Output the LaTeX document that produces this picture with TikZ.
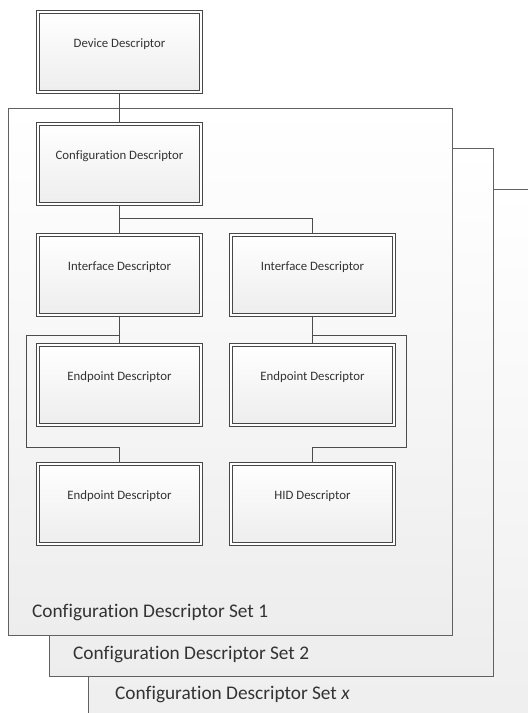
\documentclass[tikz,border=0pt]{standalone}
\usepackage{fontspec}
\setmainfont[Ligatures=NoCommon]{Carlito}
\usetikzlibrary{shadows}
\begin{document}
\begin{tikzpicture}[x=1pt,y=-1pt,
  descbox/.style={draw=black!72, line width=0.75pt, double=white, double distance=2.2pt,
    minimum width=163.5pt, minimum height=80.5pt, inner sep=0pt,
    top color=white, bottom color=black!7,
    text height=8pt, text depth=18pt, font=\fontsize{12.8}{15}\selectfont, text=black!80,
    drop shadow={shadow xshift=1.6pt, shadow yshift=-1.6pt, fill=black, opacity=0.12}},
  frame/.style={draw=black!62, line width=0.8pt, top color=white, bottom color=black!7,
    drop shadow={shadow xshift=1.2pt, shadow yshift=-1.2pt, fill=black, opacity=0.15}},
  setlabel/.style={anchor=base west, inner sep=0pt, font=\fontsize{19.3}{22}\selectfont, text=black!80},
  conn/.style={draw=black!70, line width=0.8pt}]
\useasboundingbox (0,0) rectangle (528,713);
\clip (0,0) rectangle (528,713);
% frames
\path[frame] (88,189) rectangle (560,760);
\node[setlabel] (lblx) at (115,699) {Configuration Descriptor Set \textit{x}};
\path[frame] (49,148) rectangle (493,676);
\node[setlabel] (lbl2) at (73,659) {Configuration Descriptor Set 2};
\path[frame] (8,108) rectangle (452,635);
\node[setlabel] (lbl1) at (32,617) {Configuration Descriptor Set 1};
% junction coordinates
\coordinate (j1) at (119.5,218);
\coordinate (j1r) at (312.5,218);
\coordinate (j2) at (119.5,335);
\coordinate (j2a) at (26,335);
\coordinate (j2b) at (26,447);
\coordinate (j2c) at (119.5,447);
\coordinate (j3) at (312.5,335);
\coordinate (j3a) at (406,335);
\coordinate (j3b) at (406,447);
\coordinate (j3c) at (312.5,447);
% descriptor boxes
\node[descbox] (dev) at (119.5,52) {Device Descriptor};
\node[descbox] (conf) at (119.5,164) {Configuration Descriptor};
\node[descbox] (ifl) at (119.5,275) {Interface Descriptor};
\node[descbox] (ifr) at (312.5,275) {Interface Descriptor};
\node[descbox] (ep1) at (119.5,385) {Endpoint Descriptor};
\node[descbox] (epr) at (312.5,385) {Endpoint Descriptor};
\node[descbox] (ep2) at (119.5,504) {Endpoint Descriptor};
\node[descbox] (hid) at (312.5,504) {HID Descriptor};
% connectors
\path[conn] (dev.south) -- (conf.north);
\path[conn] (conf.south) -- (j1) -- (ifl.north);
\path[conn] (j1) -- (j1r) -- (ifr.north);
\path[conn] (ifl.south) -- (j2) -- (ep1.north);
\path[conn] (j2) -- (j2a) -- (j2b) -- (j2c) -- (ep2.north);
\path[conn] (ifr.south) -- (j3) -- (epr.north);
\path[conn] (j3) -- (j3a) -- (j3b) -- (j3c) -- (hid.north);
\end{tikzpicture}
\end{document}
